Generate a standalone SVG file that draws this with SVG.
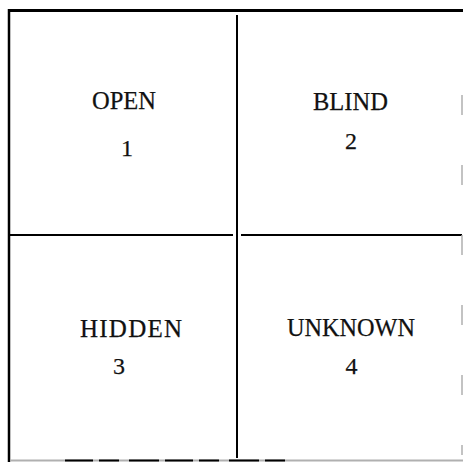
<svg xmlns="http://www.w3.org/2000/svg" width="463" height="462" viewBox="0 0 463 462">
  <style>
    .lbl { font-family: "Liberation Serif", "Times New Roman", serif; font-size: 25px; fill: #111; stroke: #111; stroke-width: 0.25; }
    .num { font-family: "Liberation Serif", "Times New Roman", serif; font-size: 24px; fill: #111; stroke: #111; stroke-width: 0.25; text-anchor: middle; }
    .line { stroke: #000; fill: none; }
    .faint { stroke: #b0b0b0; fill: none; }
  </style>
  <rect width="463" height="462" fill="#fff"/>
  <g id="connectors">
    <line class="line" x1="8" y1="10.5" x2="463" y2="10.5" stroke-width="3"/>
    <line class="line" x1="9" y1="9" x2="9" y2="462" stroke-width="2.5"/>
    <line class="line" x1="237" y1="15" x2="237" y2="458" stroke-width="2"/>
    <line class="line" x1="9" y1="235" x2="233" y2="235" stroke-width="1.8"/>
    <line class="line" x1="241" y1="235" x2="462" y2="235" stroke-width="1.8"/>
    <line class="faint" x1="10" y1="460.5" x2="463" y2="460.5" stroke-width="2"/>
    <line class="line" x1="65" y1="460.5" x2="285" y2="460.5" stroke-width="2" stroke-dasharray="28 6 20 10 30 6"/>
    <line class="faint" x1="462" y1="95" x2="462" y2="455" stroke-width="1.5" stroke-dasharray="20 50"/>
  </g>
  <g id="open">
    <text class="lbl" x="92" y="109" textLength="64" lengthAdjust="spacingAndGlyphs">OPEN</text>
    <text class="num" x="127" y="156">1</text>
  </g>
  <g id="blind">
    <text class="lbl" x="313" y="110" textLength="75" lengthAdjust="spacingAndGlyphs">BLIND</text>
    <text class="num" x="351" y="149">2</text>
  </g>
  <g id="hidden">
    <text class="lbl" x="80" y="337" textLength="102" lengthAdjust="spacing">HIDDEN</text>
    <text class="num" x="119" y="374">3</text>
  </g>
  <g id="unknown">
    <text class="lbl" x="287" y="336" textLength="128" lengthAdjust="spacingAndGlyphs">UNKNOWN</text>
    <text class="num" x="351.5" y="374">4</text>
  </g>
</svg>
